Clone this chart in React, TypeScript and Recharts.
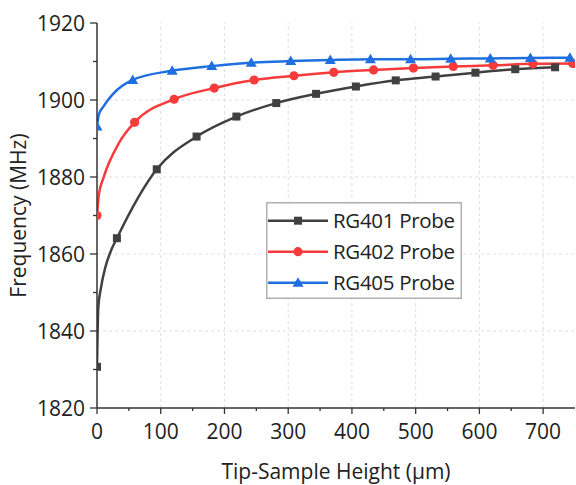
import React from 'react';
import { LineChart, Line, XAxis, YAxis, ReferenceLine, Legend } from 'recharts';

// marker points [height µm, frequency MHz]
const rg401Markers: [number, number][] = [
  [0, 1830.7], [31.25, 1864.1], [93.75, 1882.0], [156.25, 1890.5], [218.75, 1895.7],
  [281.25, 1899.2], [343.75, 1901.6], [406.25, 1903.5], [468.75, 1905.1], [531.25, 1906.1],
  [593.75, 1907.1], [656.25, 1908.0], [718.75, 1908.5],
];
const rg402Markers: [number, number][] = [
  [0, 1870.0], [59, 1894.2], [121, 1900.2], [184, 1903.1], [246.5, 1905.2],
  [309, 1906.3], [371.5, 1907.2], [434, 1907.8], [496.5, 1908.3], [559, 1908.7],
  [621.5, 1909.0], [684, 1909.4], [746.5, 1909.5],
];
const rg405Markers: [number, number][] = [
  [0, 1893.1], [56, 1905.2], [118, 1907.6], [180, 1908.8], [242, 1909.7],
  [304, 1910.1], [366, 1910.4], [429, 1910.6], [492, 1910.6], [555, 1910.7],
  [617, 1910.8], [680, 1910.9], [742, 1911.0],
];

// extra points read off the curves near the steep start (no marker)
const rg401Curve: [number, number][] = [[2, 1846], [6, 1851], [13, 1856.5], [21, 1860.5]];
const rg402Curve: [number, number][] = [[3, 1875.5], [10, 1879.7], [34, 1888.7]];
const rg405Curve: [number, number][] = [[3, 1896.3], [10, 1898.3], [26, 1901.7]];

const xTicks = [0, 50, 100, 150, 200, 250, 300, 350, 400, 450, 500, 550, 600, 650, 700];
const yTicks = [1820, 1830, 1840, 1850, 1860, 1870, 1880, 1890, 1900, 1910, 1920];
const xGrid = [100, 200, 300, 400, 500, 600, 700];
const yGrid = [1840, 1860, 1880, 1900];

const FONT = '"Open Sans", sans-serif';
const AXIS = '#333';
const BLACK = '#404040';
const RED = '#f73b3b';
const BLUE = '#1f6fe0';

type Pt = { x: number; y: number; m: boolean };

const build = (marks: [number, number][], curve: [number, number][]): Pt[] =>
  [
    ...marks.map(([x, y]) => ({ x, y, m: true })),
    ...curve.map(([x, y]) => ({ x, y, m: false })),
  ].sort((a, b) => a.x - b.x);

const series = [
  { name: 'RG401 Probe', color: BLACK, shape: 'square', data: build(rg401Markers, rg401Curve) },
  { name: 'RG402 Probe', color: RED, shape: 'circle', data: build(rg402Markers, rg402Curve) },
  { name: 'RG405 Probe', color: BLUE, shape: 'triangle', data: build(rg405Markers, rg405Curve) },
];

const Marker = ({ shape, color, cx, cy }: { shape: string; color: string; cx: number; cy: number }) => {
  if (shape === 'square') return <rect x={cx - 4} y={cy - 4} width={8} height={8} fill={color} />;
  if (shape === 'circle') return <circle cx={cx} cy={cy} r={4.6} fill={color} />;
  return <polygon points={`${cx},${cy - 5.5} ${cx - 5.5},${cy + 4} ${cx + 5.5},${cy + 4}`} fill={color} />;
};

const makeDot = (shape: string, color: string) => (props: any) => {
  const { cx, cy, payload, index } = props;
  if (!payload || !payload.m) return <g key={`d-${index}`} />;
  return (
    <g key={`d-${index}`}>
      <Marker shape={shape} color={color} cx={cx} cy={cy} />
    </g>
  );
};

const XTick = (props: any) => {
  const { x, y, payload } = props;
  const major = payload.value % 100 === 0;
  return (
    <g>
      <line x1={x} y1={y} x2={x} y2={y + (major ? 6 : 3)} stroke={AXIS} strokeWidth={1.3} />
      {major && (
        <text x={x} y={y + 31} textAnchor="middle" fontSize={21} fontFamily={FONT} fill="#222">
          {payload.value}
        </text>
      )}
    </g>
  );
};

const YTick = (props: any) => {
  const { x, y, payload } = props;
  const major = payload.value % 20 === 0;
  return (
    <g>
      <line x1={x} y1={y} x2={x - (major ? 7 : 4)} y2={y} stroke={AXIS} strokeWidth={1.3} />
      {major && (
        <text x={x - 12} y={y + 7.5} textAnchor="end" fontSize={21} fontFamily={FONT} fill="#222">
          {payload.value}
        </text>
      )}
    </g>
  );
};

const LegendBox = () => (
  <svg width={196} height={97}>
    <rect x={0.75} y={0.75} width={194.5} height={95.5} fill="#fff" stroke="#b0b0b0" strokeWidth={1.5} />
    {series.map((s, i) => {
      const cy = 18.7 + i * 31;
      return (
        <g key={s.name}>
          <line x1={2} y1={cy} x2={62} y2={cy} stroke={s.color} strokeWidth={2.5} />
          <Marker shape={s.shape} color={s.color} cx={32} cy={cy} />
          <text x={67} y={cy + 7} fontSize={20.5} fontFamily={FONT} fill="#222" textLength={122}>
            {s.name}
          </text>
        </g>
      );
    })}
  </svg>
);

export default function App() {
  return (
    <div style={{ position: 'absolute', left: 0, top: 0, background: '#fff' }}>
      <LineChart width={576} height={485} margin={{ top: 23, right: 1, left: 0, bottom: 0 }}>
        <XAxis
          dataKey="x"
          type="number"
          domain={[0, 750]}
          ticks={xTicks}
          interval={0}
          allowDataOverflow
          height={77}
          tickSize={0}
          tickMargin={0}
          tickLine={false}
          tick={<XTick />}
          axisLine={{ stroke: AXIS, strokeWidth: 1.5 }}
          label={{ value: 'Tip-Sample Height (µm)', position: 'insideBottom', offset: 6, fontSize: 21, fontFamily: FONT, fill: '#222' }}
        />
        <YAxis
          type="number"
          domain={[1820, 1920]}
          ticks={yTicks}
          interval={0}
          allowDataOverflow
          width={97}
          tickSize={0}
          tickMargin={0}
          tickLine={false}
          tick={<YTick />}
          axisLine={{ stroke: AXIS, strokeWidth: 1.5 }}
          label={{ value: 'Frequency (MHz)', angle: -90, position: 'insideLeft', offset: 19, fontSize: 21, fontFamily: FONT, fill: '#222', style: { textAnchor: 'middle' } }}
        />
        {xGrid.map((v) => (
          <ReferenceLine key={`gx-${v}`} x={v} stroke="#dedede" strokeDasharray="3 3" strokeWidth={1} />
        ))}
        {yGrid.map((v) => (
          <ReferenceLine key={`gy-${v}`} y={v} stroke="#dedede" strokeDasharray="3 3" strokeWidth={1} />
        ))}
        {series.map((s) => (
          <Line
            key={s.name}
            data={s.data}
            dataKey="y"
            name={s.name}
            type="monotone"
            stroke={s.color}
            strokeWidth={2.5}
            dot={makeDot(s.shape, s.color)}
            activeDot={false}
            isAnimationActive={false}
          />
        ))}
        <Legend
          layout="vertical"
          align="center"
          verticalAlign="middle"
          content={() => <LegendBox />}
          wrapperStyle={{ position: 'absolute', left: 266, top: 202, width: 196, height: 97 }}
        />
      </LineChart>
    </div>
  );
}
